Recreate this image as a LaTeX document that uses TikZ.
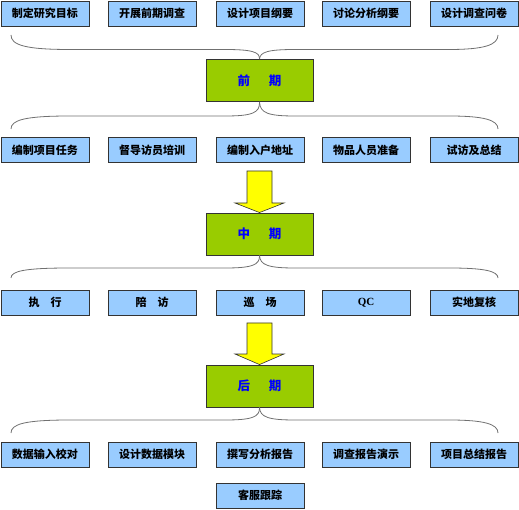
\documentclass[tikz,border=0pt]{standalone}
\usepackage{fontspec}
\newfontfamily\cjk{Noto Sans CJK SC}
\newfontfamily\serifqc{Liberation Serif}
\definecolor{boxblue}{HTML}{99CCFF}
\definecolor{boxgreen}{HTML}{99CC00}
\definecolor{txtblue}{HTML}{0000FF}
\definecolor{arrowyellow}{HTML}{FFFF00}
\definecolor{edgegray}{HTML}{333333}
\definecolor{bracegray}{HTML}{707070}
\tikzset{
  taskbox/.style={draw=edgegray, line width=0.9pt, fill=boxblue, minimum width=88pt, minimum height=25pt, inner sep=0pt, font=\cjk\bfseries\fontsize{11}{13}\selectfont, text=black},
  phasebox/.style={draw=edgegray, line width=0.9pt, fill=boxgreen, minimum width=107pt, minimum height=42pt, inner sep=0pt, font=\cjk\bfseries\fontsize{12.5}{14}\selectfont, text=txtblue},
  bracestyle/.style={draw=bracegray, line width=0.8pt},
  bigarrow/.style={draw=edgegray, line width=0.6pt, fill=arrowyellow}
}
\begin{document}
\begin{tikzpicture}[x=1pt,y=-1pt]
\useasboundingbox (0,0) rectangle (519,510);
% row 1
\node[taskbox] (a1) at (45,13.5) {制定研究目标};
\node[taskbox] (a2) at (152,13.5) {开展前期调查};
\node[taskbox] (a3) at (260,13.5) {设计项目纲要};
\node[taskbox] (a4) at (366,13.5) {讨论分析纲要};
\node[taskbox] (a5) at (474,13.5) {设计调查问卷};
% phase 1
\node[phasebox] (p1) at (259.5,80.5) {前\hspace{1.5em}期};
% row 2
\node[taskbox] (b1) at (45,150) {编制项目任务};
\node[taskbox] (b2) at (152,150) {督导访员培训};
\node[taskbox] (b3) at (260,150) {编制入户地址};
\node[taskbox] (b4) at (366,150) {物品人员准备};
\node[taskbox] (b5) at (474,150) {试访及总结};
% phase 2
\node[phasebox] (p2) at (259.5,234) {中\hspace{1.5em}期};
% row 3
\node[taskbox] (c1) at (45,302.5) {执\hspace{1em}行};
\node[taskbox] (c2) at (152,302.5) {陪\hspace{1em}访};
\node[taskbox] (c3) at (260,302.5) {巡\hspace{1em}场};
\node[taskbox] (c4) at (366,302.5) {\serifqc QC};
\node[taskbox] (c5) at (474,302.5) {实地复核};
% phase 3
\node[phasebox] (p3) at (259.5,386) {后\hspace{1.5em}期};
% row 4
\node[taskbox] (d1) at (45,454.5) {数据输入校对};
\node[taskbox] (d2) at (152,454.5) {设计数据模块};
\node[taskbox] (d3) at (260,454.5) {撰写分析报告};
\node[taskbox] (d4) at (366,454.5) {调查报告演示};
\node[taskbox] (d5) at (474,454.5) {项目总结报告};
\node[taskbox] (d6) at (260,495.5) {客服跟踪};
% braces
% brace 1: ends up, tip down
\draw[bracestyle] (11,35) .. controls (11,45) and (25,49.5) .. (70,49.5) -- (225,49.5) .. controls (252,49.5) and (260,52) .. (p1.north);
\draw[bracestyle] (498,35) .. controls (498,45) and (484,49.5) .. (449,49.5) -- (295,49.5) .. controls (268,49.5) and (260,52) .. (p1.north);
% brace 2: tip up, ends down
\draw[bracestyle] (11,129) .. controls (11,120) and (25,116) .. (70,116) -- (225,116) .. controls (252,116) and (260,113) .. (p1.south);
\draw[bracestyle] (498,129) .. controls (498,120) and (484,116) .. (449,116) -- (295,116) .. controls (268,116) and (260,113) .. (p1.south);
% brace 3
\draw[bracestyle] (11,278) .. controls (11,271) and (25,268) .. (70,268) -- (225,268) .. controls (252,268) and (260,265) .. (p2.south);
\draw[bracestyle] (498,278) .. controls (498,271) and (484,268) .. (449,268) -- (295,268) .. controls (268,268) and (260,265) .. (p2.south);
% brace 4
\draw[bracestyle] (11,433) .. controls (11,424) and (25,420) .. (70,420) -- (225,420) .. controls (252,420) and (260,417) .. (p3.south);
\draw[bracestyle] (498,433) .. controls (498,424) and (484,420) .. (449,420) -- (295,420) .. controls (268,420) and (260,417) .. (p3.south);
% arrows
\draw[bigarrow] (247,171) -- (272,171) -- (272,203) -- (284,203) -- (p2.north) -- (235,203) -- (247,203) -- cycle;
\draw[bigarrow] (247,323) -- (272,323) -- (272,354) -- (284,354) -- (p3.north) -- (235,354) -- (247,354) -- cycle;
\end{tikzpicture}
\end{document}
